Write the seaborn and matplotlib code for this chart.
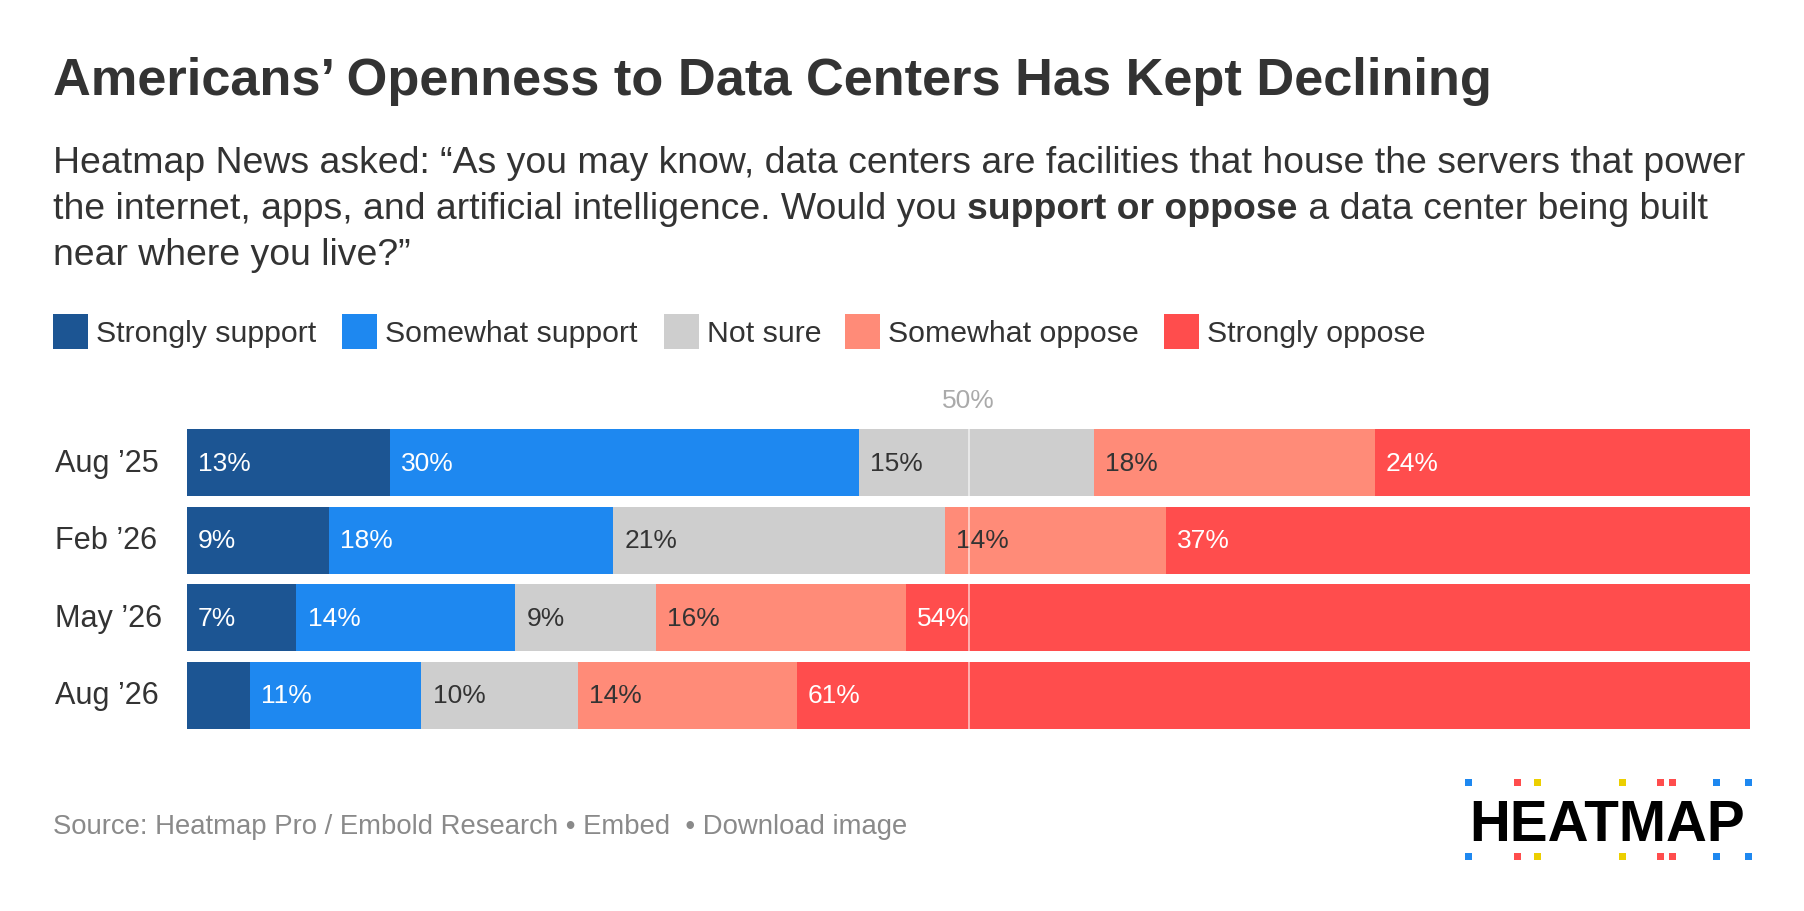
import pandas as pd
import matplotlib
matplotlib.use("Agg")
import matplotlib.pyplot as plt
import matplotlib.transforms as mtransforms
from matplotlib.patches import Rectangle
import seaborn as sns

# survey waves and answers
dates = ["Aug ’25", "Feb ’26", "May ’26", "Aug ’26"]
responses = ["Strongly support", "Somewhat support", "Not sure", "Somewhat oppose", "Strongly oppose"]
strongly_support = [13, 9, 7, 4]
somewhat_support = [30, 18, 14, 11]
not_sure = [15, 21, 9, 10]
somewhat_oppose = [18, 14, 16, 14]
strongly_oppose = [24, 37, 54, 61]

colors = ["#1c5593", "#1e88f0", "#cecece", "#ff8b78", "#ff4d4d"]
label_colors = ["white", "white", "#333333", "#333333", "white"]

df = pd.DataFrame({
    "Strongly support": strongly_support,
    "Somewhat support": somewhat_support,
    "Not sure": not_sure,
    "Somewhat oppose": somewhat_oppose,
    "Strongly oppose": strongly_oppose,
}, index=dates)
shares = df.div(df.sum(axis=1), axis=0) * 100
cum = shares.cumsum(axis=1)

sns.set_theme(style="white")
plt.rcParams["font.family"] = ["Liberation Sans", "DejaVu Sans"]

W, H = 1804, 912
fig = plt.figure(figsize=(W / 100, H / 100), dpi=100)
fig.patch.set_facecolor("white")
ax = fig.add_axes([187 / W, 1 - 730 / H, (1750 - 187) / W, 300 / H])
renderer = fig.canvas.get_renderer()


def fit(t, width_px):
    w = t.get_window_extent(renderer).width
    t.set_fontsize(t.get_fontsize() * width_px / w)
    return t.get_fontsize()


bar_h = 0.865
# stacked bars: draw cumulative totals from the right-most answer down
for i in reversed(range(len(responses))):
    sns.barplot(x=cum[responses[i]].values, y=dates, orient="h", color=colors[i],
                saturation=1, width=bar_h, linewidth=0, ax=ax)

for j, d in enumerate(dates):
    for i, r in enumerate(responses):
        v = df.loc[d, r]
        if v < 5:
            continue
        left = cum.loc[d, r] - shares.loc[d, r]
        ax.annotate(f"{v}%", (left, j), xytext=(8, 0), textcoords="offset points",
                    va="center", ha="left", color=label_colors[i], fontsize=19)

ax.axvline(50, color="white", alpha=0.6, lw=1.3, zorder=5)
ax.text(50, 1 + 29 / 300, "50%", transform=ax.get_xaxis_transform(),
        ha="center", va="center", color="#aaaaaa", fontsize=19)

ax.set_xlim(0, 100)
ax.set_ylim(len(dates) - 1 + bar_h / 2, -bar_h / 2)
ax.axis("off")

# row labels, left aligned at the page margin
row_tr = mtransforms.blended_transform_factory(fig.transFigure, ax.transData)
probe = fig.text(0, 0, "May ’26", fontsize=20)
row_fs = fit(probe, 107)
probe.remove()
for j, d in enumerate(dates):
    fig.text(55 / W, j, d, transform=row_tr, ha="left", va="center",
             color="#333333", fontsize=row_fs)

# legend, squares followed by labels
probe = fig.text(0, 0, "Strongly support", fontsize=20)
leg_fs = fit(probe, 220)
probe.remove()
leg_x = [53, 342, 664, 845, 1164]
for x0, c, r in zip(leg_x, colors, responses):
    fig.patches.append(Rectangle((x0 / W, 1 - 350 / H), 35 / W, 35 / H,
                                 transform=fig.transFigure, facecolor=c, edgecolor="none"))
    fig.text((x0 + 43) / W, 1 - 334 / H, r, fontsize=leg_fs, color="#333333", va="center")

title = fig.text(53 / W, 1 - 95 / H, "Americans’ Openness to Data Centers Has Kept Declining",
                 fontsize=36, fontweight="bold", color="#333333", va="baseline")
fit(title, 1440)

sub1 = fig.text(53 / W, 1 - 173 / H,
                "Heatmap News asked: “As you may know, data centers are facilities that house the servers that power",
                fontsize=24, color="#333333", va="baseline")
fs = fit(sub1, 1690)

# second line has a bold part in the middle
x = 53
for part, weight in [("the internet, apps, and artificial intelligence. Would you ", "normal"),
                     ("support or oppose", "bold"),
                     (" a data center being built", "normal")]:
    t = fig.text(x / W, 1 - 219 / H, part, fontsize=fs, fontweight=weight,
                 color="#333333", va="baseline")
    x += t.get_window_extent(renderer).width

fig.text(53 / W, 1 - 265 / H, "near where you live?”", fontsize=fs,
         color="#333333", va="baseline")

foot = fig.text(53 / W, 1 - 834 / H,
                "Source: Heatmap Pro / Embold Research • Embed  • Download image",
                fontsize=19, color="#8a8a8a", va="baseline")
fit(foot, 856)

# logo
logo = fig.text(1469 / W, 1 - 841 / H, "HEATMAP", fontsize=40, fontweight="bold",
                color="black", va="baseline")
fit(logo, 276)
dots = [(1465, "#1e88f0"), (1514, "#ff4d4d"), (1534, "#eccf00"), (1619, "#eccf00"),
        (1657, "#ff4d4d"), (1669, "#ff4d4d"), (1713, "#1e88f0"), (1745, "#1e88f0")]
for dx, c in dots:
    for dy in (780, 854):
        fig.patches.append(Rectangle((dx / W, 1 - (dy + 7) / H), 7 / W, 7 / H,
                                     transform=fig.transFigure, facecolor=c,
                                     edgecolor="none"))

fig.savefig("out.png", dpi=100, facecolor="white")
